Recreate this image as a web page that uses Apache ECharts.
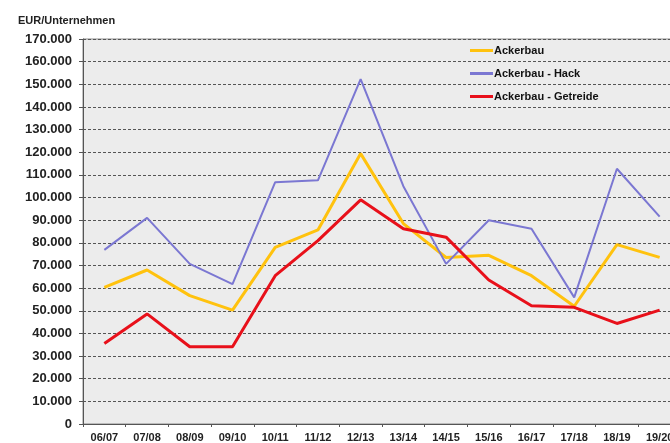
<!DOCTYPE html>
<html><head><meta charset="utf-8">
<script src="https://cdn.jsdelivr.net/npm/echarts@6/dist/echarts.min.js"></script>
<style>html,body{margin:0;padding:0;background:#fff;overflow:hidden}#c{width:682px;height:443px}</style>
</head><body><div id="c"></div>
<script>
const categories = ['06/07','07/08','08/09','09/10','10/11','11/12','12/13','13/14','14/15','15/16','16/17','17/18','18/19','19/20'];
const ackerbau = [60300, 68000, 56700, 50300, 78000, 85700, 119400, 88500, 73500, 74500, 65500, 52000, 79200, 73600];
const hack = [76900, 91000, 70700, 61800, 106800, 107600, 152300, 105000, 70700, 90000, 86200, 55900, 112700, 91600];
const getreide = [35500, 48600, 34100, 34100, 65500, 81000, 99000, 86200, 82500, 63600, 52200, 51500, 44400, 50300];
const seriesNames = ['Ackerbau', 'Ackerbau - Hack', 'Ackerbau - Getreide'];
const yTitle = 'EUR/Unternehmen';

function fmt(v){ return String(v).replace(/\B(?=(\d{3})+(?!\d))/g, '.'); }

const chart = echarts.init(document.getElementById('c'));
const font = 'Liberation Sans, Arial, sans-serif';
chart.setOption({
  animation: false,
  backgroundColor: '#fff',
  title: { text: yTitle, left: 13, top: 10, textStyle: { fontFamily: font, fontSize: 11, fontWeight: 'bold', color: '#222' } },
  grid: { left: 83, top: 39, bottom: 19, right: 1, show: true, backgroundColor: '#ececec', borderColor: '#8a8a8a', borderWidth: 1 },
  legend: {
    orient: 'vertical', left: 465, top: 40, itemWidth: 23, itemHeight: 3, itemGap: 12,
    icon: 'rect',
    textStyle: { fontFamily: font, fontSize: 11, fontWeight: 'bold', color: '#111', padding: [0,0,0,-4] },
    data: seriesNames
  },
  xAxis: {
    type: 'category', data: categories, boundaryGap: true,
    axisLine: { lineStyle: { color: '#555', width: 1 } },
    axisTick: { show: true, length: 3, lineStyle: { color: '#555' } },
    axisLabel: { fontFamily: font, fontSize: 11, fontWeight: 'bold', color: '#222', margin: 8 }
  },
  yAxis: {
    type: 'value', min: 0, max: 170000, interval: 10000,
    axisLine: { show: true, lineStyle: { color: '#555', width: 1 } },
    axisTick: { show: true, length: 4, lineStyle: { color: '#555' } },
    axisLabel: { fontFamily: font, fontSize: 13, fontWeight: 'bold', color: '#222', margin: 11, formatter: fmt },
    splitLine: { show: true, lineStyle: { color: '#555', width: 1, type: [3, 2] } }
  },
  series: [
    { name: seriesNames[0], type: 'line', data: ackerbau, symbol: 'none', lineStyle: { color: '#ffc20e', width: 3 }, itemStyle: { color: '#ffc20e' } },
    { name: seriesNames[1], type: 'line', data: hack, symbol: 'none', lineStyle: { color: '#7b77d2', width: 2 }, itemStyle: { color: '#7b77d2' } },
    { name: seriesNames[2], type: 'line', data: getreide, symbol: 'none', lineStyle: { color: '#e8101a', width: 3 }, itemStyle: { color: '#e8101a' } }
  ]
});
</script></body></html>
